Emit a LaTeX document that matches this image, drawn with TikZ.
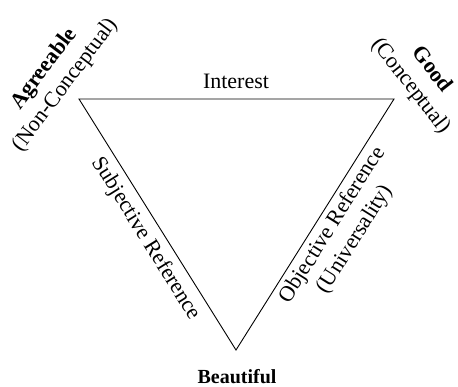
\documentclass[tikz,border=0pt]{standalone}
\usepackage{fontspec}
\setmainfont{Liberation Serif}
\begin{document}
\begin{tikzpicture}[x=1pt,y=-1pt,
  lbl/.style={font=\fontsize{22}{26.5}\selectfont, inner sep=1pt},
  edge/.style={line width=0.9pt, line join=miter}]
\useasboundingbox (0,0) rectangle (458,386);
\coordinate (A) at (79,99);
\coordinate (G) at (394,99);
\coordinate (B) at (236,350);
\draw[edge] (A) -- (G) -- (B) -- cycle;
\node[lbl, anchor=base] (int) at (236,88) {Interest};
\node[lbl, font=\fontsize{20}{24}\selectfont, anchor=base] (beau) at (237,383) {\textbf{Beautiful}};
\path (A) -- node[lbl, sloped, below=6pt, pos=0.52] (subj) {Subjective Reference} (B);
\path (B) -- node[lbl, sloped, below=4pt, pos=0.53, align=center] (obj) {Objective Reference\\(Universality)} (G);
\node[lbl, rotate=53, align=center] (agr) at (55,77) {\textbf{Agreeable}\\(Non-Conceptual)};
\node[lbl, rotate=-52, align=center] (good) at (421,78) {\textbf{Good}\\(Conceptual)};
\end{tikzpicture}
\end{document}
